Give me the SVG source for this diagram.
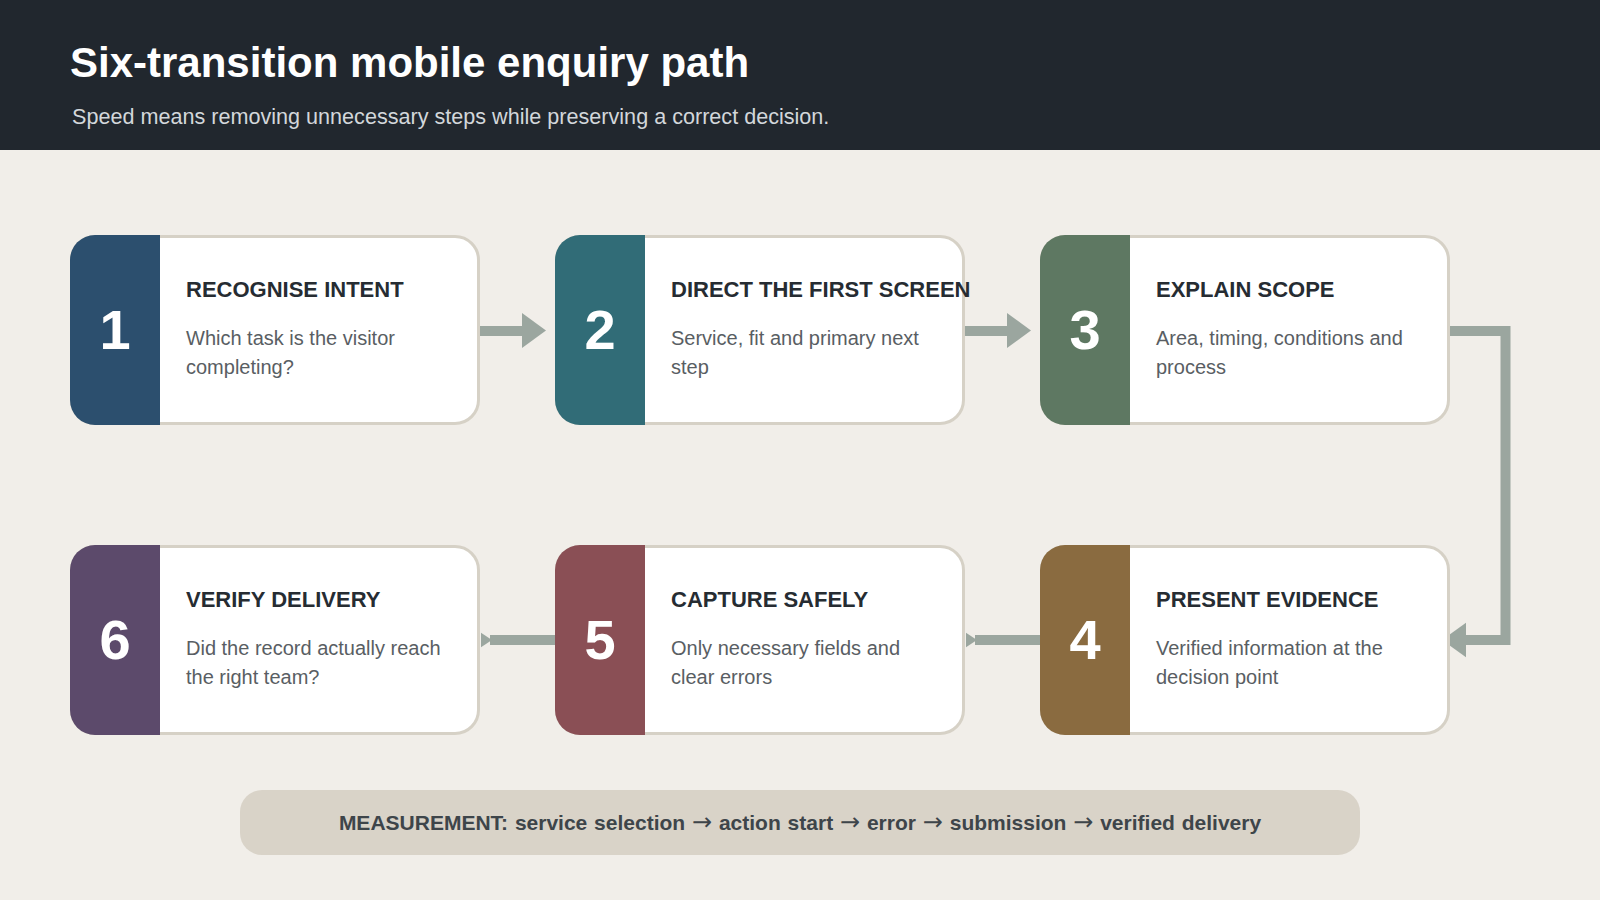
<svg xmlns="http://www.w3.org/2000/svg" width="1600" height="900" viewBox="0 0 1600 900">
<style>
.card{fill:#ffffff;stroke:#d6d1c6;stroke-width:3}
.num{font-family:"Liberation Sans",Arial,sans-serif;font-weight:bold;font-size:56px;fill:#ffffff;text-anchor:middle}
.ttl{font-family:"Liberation Sans",Arial,sans-serif;font-weight:bold;font-size:22px;fill:#262c32}
.dsc{font-family:"Liberation Sans",Arial,sans-serif;font-size:20px;fill:#595e63}
.ln{fill:none;stroke:#9ba69f;stroke-width:10}
.ah{fill:#9ba69f}
.arr{font-family:"DejaVu Sans",sans-serif;font-weight:normal;font-size:24px}
</style>
<rect width="1600" height="900" fill="#f1eee9"/>
<rect width="1600" height="150" fill="#21272e"/>
<text x="70" y="77" font-family="Liberation Sans, Arial, sans-serif" font-weight="bold" font-size="42" fill="#ffffff">Six-transition mobile enquiry path</text>
<text x="72" y="124" font-family="Liberation Sans, Arial, sans-serif" font-size="21.6" fill="#d3d7db">Speed means removing unnecessary steps while preserving a correct decision.</text>

<g id="connectors">
<line class="ln" x1="480" y1="331" x2="530" y2="331"/>
<polygon class="ah" points="522,313 522,348 546,330.5"/>
<line class="ln" x1="965" y1="331" x2="1015" y2="331"/>
<polygon class="ah" points="1007,313 1007,348 1031,330.5"/>
<path class="ln" d="M1450,331 H1505.5 V640 H1460" stroke-linejoin="miter"/>
<polygon class="ah" points="1466,622.7 1466,657.3 1442,640"/>
<line class="ln" x1="1040" y1="640" x2="975" y2="640"/>
<polygon class="ah" points="966,632.7 966,647.3 977,640"/>
<line class="ln" x1="555" y1="640" x2="490" y2="640"/>
<polygon class="ah" points="481,632.7 481,647.3 492,640"/>
</g>

<g id="node1">
<rect class="card" x="71.5" y="236.5" width="407" height="187" rx="23.5"/>
<path d="M95,235 H160 V425 H95 A25,25 0 0 1 70,400 V260 A25,25 0 0 1 95,235 Z" fill="#2c4f6e"/>
<text class="num" x="115" y="349">1</text>
<text class="ttl" x="186" y="297">RECOGNISE INTENT</text>
<text class="dsc" x="186" y="345">Which task is the visitor</text>
<text class="dsc" x="186" y="373.5">completing?</text>
</g>

<g id="node2">
<rect class="card" x="556.5" y="236.5" width="407" height="187" rx="23.5"/>
<path d="M580,235 H645 V425 H580 A25,25 0 0 1 555,400 V260 A25,25 0 0 1 580,235 Z" fill="#316c77"/>
<text class="num" x="600" y="349">2</text>
<text class="ttl" x="671" y="297">DIRECT THE FIRST SCREEN</text>
<text class="dsc" x="671" y="345">Service, fit and primary next</text>
<text class="dsc" x="671" y="373.5">step</text>
</g>

<g id="node3">
<rect class="card" x="1041.5" y="236.5" width="407" height="187" rx="23.5"/>
<path d="M1065,235 H1130 V425 H1065 A25,25 0 0 1 1040,400 V260 A25,25 0 0 1 1065,235 Z" fill="#5e7862"/>
<text class="num" x="1085" y="349">3</text>
<text class="ttl" x="1156" y="297">EXPLAIN SCOPE</text>
<text class="dsc" x="1156" y="345">Area, timing, conditions and</text>
<text class="dsc" x="1156" y="373.5">process</text>
</g>

<g id="node4">
<rect class="card" x="1041.5" y="546.5" width="407" height="187" rx="23.5"/>
<path d="M1065,545 H1130 V735 H1065 A25,25 0 0 1 1040,710 V570 A25,25 0 0 1 1065,545 Z" fill="#8a6b40"/>
<text class="num" x="1085" y="659">4</text>
<text class="ttl" x="1156" y="607">PRESENT EVIDENCE</text>
<text class="dsc" x="1156" y="655">Verified information at the</text>
<text class="dsc" x="1156" y="683.5">decision point</text>
</g>

<g id="node5">
<rect class="card" x="556.5" y="546.5" width="407" height="187" rx="23.5"/>
<path d="M580,545 H645 V735 H580 A25,25 0 0 1 555,710 V570 A25,25 0 0 1 580,545 Z" fill="#8a4f55"/>
<text class="num" x="600" y="659">5</text>
<text class="ttl" x="671" y="607">CAPTURE SAFELY</text>
<text class="dsc" x="671" y="655">Only necessary fields and</text>
<text class="dsc" x="671" y="683.5">clear errors</text>
</g>

<g id="node6">
<rect class="card" x="71.5" y="546.5" width="407" height="187" rx="23.5"/>
<path d="M95,545 H160 V735 H95 A25,25 0 0 1 70,710 V570 A25,25 0 0 1 95,545 Z" fill="#5c4a6b"/>
<text class="num" x="115" y="659">6</text>
<text class="ttl" x="186" y="607">VERIFY DELIVERY</text>
<text class="dsc" x="186" y="655">Did the record actually reach</text>
<text class="dsc" x="186" y="683.5">the right team?</text>
</g>

<g id="measurement">
<rect x="240" y="790" width="1120" height="65" rx="22" fill="#d9d3c8"/>
<text x="800" y="830" text-anchor="middle" font-family="Liberation Sans, Arial, sans-serif" font-weight="bold" font-size="21" word-spacing="1" fill="#3e454a">MEASUREMENT: service selection <tspan class="arr">→</tspan> action start <tspan class="arr">→</tspan> error <tspan class="arr">→</tspan> submission <tspan class="arr">→</tspan> verified delivery</text>
</g>
</svg>
